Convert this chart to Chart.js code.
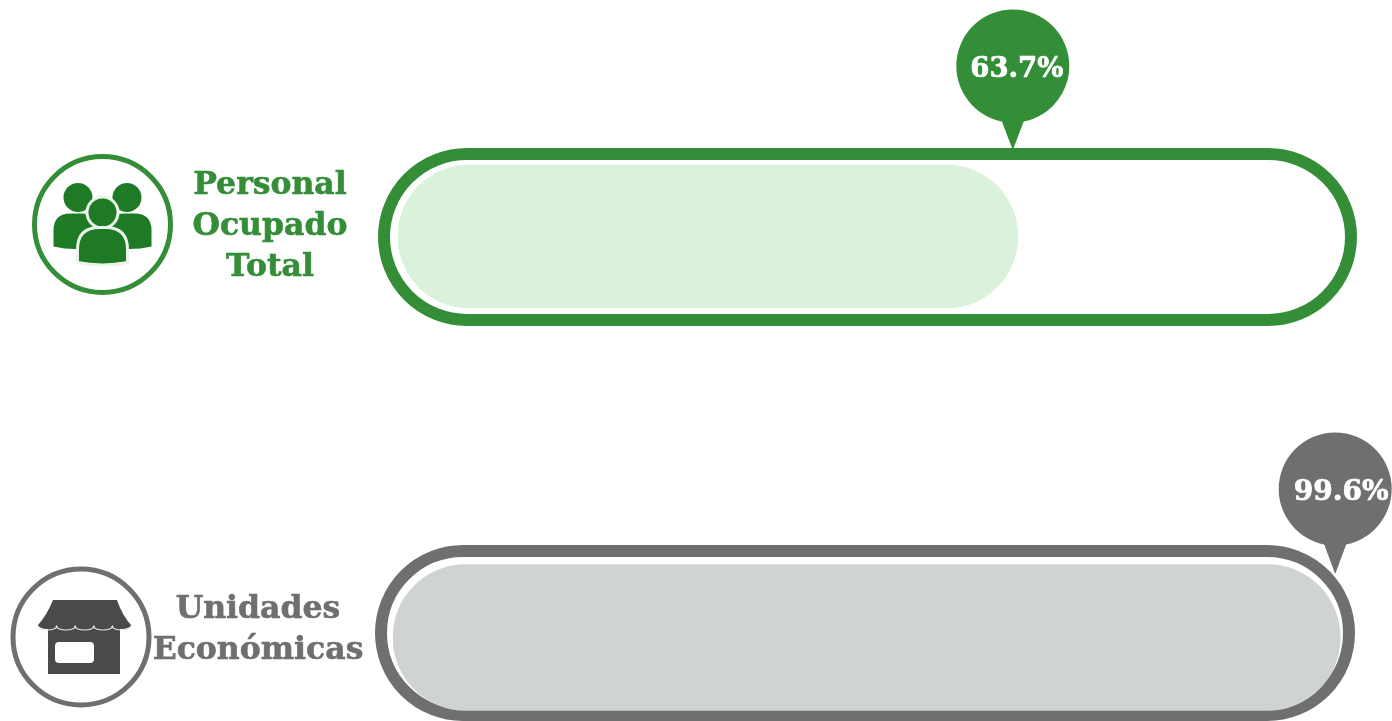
<!DOCTYPE html>
<html lang="es">
<head>
<meta charset="utf-8">
<title>Personal Ocupado Total y Unidades Económicas</title>
<script src="https://cdn.jsdelivr.net/npm/chart.js@4"></script>
<style>
html,body{margin:0;padding:0;background:#fff;overflow:hidden;width:1392px;height:721px}
canvas{position:absolute;left:0;display:block}
</style>
</head>
<body>
<canvas id="c1" width="1392" height="360" style="top:0;width:1392px;height:360px"></canvas>
<canvas id="c2" width="1392" height="361" style="top:360px;width:1392px;height:361px"></canvas>
<script>
const categories = ["Personal Ocupado Total", "Unidades Económicas"];
const categoryLines = [["Personal", "Ocupado", "Total"], ["Unidades", "Económicas"]];
const values = [63.7, 99.6];
const valueLabels = ["63.7%", "99.6%"];

const FONT = '"DejaVu Serif"';

function rr(ctx, x, y, w, h, r) {
  ctx.beginPath();
  ctx.roundRect(x, y, w, h, r);
}

function boldText(ctx, t, x, y, w) {
  ctx.lineJoin = 'round';
  ctx.lineWidth = w;
  ctx.strokeStyle = ctx.fillStyle;
  ctx.strokeText(t, x, y);
  ctx.fillText(t, x, y);
}

function drawPeople(ctx, cx, cy) {
  const col = '#1f7a26';
  function body(x0, x1, top, bottom, rad) {
    ctx.beginPath();
    ctx.moveTo(x0, bottom - 2);
    ctx.lineTo(x0, top + rad);
    ctx.quadraticCurveTo(x0, top, x0 + rad, top);
    ctx.lineTo(x1 - rad, top);
    ctx.quadraticCurveTo(x1, top, x1, top + rad);
    ctx.lineTo(x1, bottom - 2);
    ctx.quadraticCurveTo((x0 + x1) / 2, bottom + 3, x0, bottom - 2);
    ctx.closePath();
  }
  ctx.fillStyle = col;
  ctx.beginPath(); ctx.arc(cx - 24.5, cy - 27, 14.5, 0, Math.PI * 2); ctx.fill();
  ctx.beginPath(); ctx.arc(cx + 24.5, cy - 27, 14.5, 0, Math.PI * 2); ctx.fill();
  body(cx - 49, cx - 5, cy - 11, cy + 24, 17); ctx.fill();
  body(cx + 5, cx + 49, cy - 11, cy + 24, 17); ctx.fill();
  ctx.strokeStyle = '#eaf5ea';
  ctx.lineWidth = 3;
  ctx.beginPath(); ctx.arc(cx, cy - 12, 15.5, 0, Math.PI * 2); ctx.fillStyle = col; ctx.fill(); ctx.stroke();
  body(cx - 25, cx + 25, cy + 3, cy + 40, 22); ctx.fill(); ctx.stroke();
}

function drawStore(ctx, cx, cy) {
  const col = '#4a4a4a';
  ctx.fillStyle = col;
  ctx.fillRect(cx - 33, cy - 10, 72, 47);
  ctx.beginPath();
  ctx.moveTo(cx - 28, cy - 37);
  ctx.lineTo(cx + 36, cy - 37);
  ctx.quadraticCurveTo(cx + 41, cy - 22, cx + 50, cy - 12);
  ctx.lineTo(cx - 43, cy - 12);
  ctx.quadraticCurveTo(cx - 34, cy - 22, cx - 28, cy - 37);
  ctx.closePath();
  ctx.fill();
  const n = 5, sw = 93 / n;
  for (let i = 0; i < n; i++) {
    ctx.fillStyle = col;
    ctx.beginPath();
    ctx.ellipse(cx - 43 + sw * (i + 0.5), cy - 12, sw / 2, 4, 0, 0, Math.PI);
    ctx.fill();
    ctx.strokeStyle = '#e8e8e8';
    ctx.lineWidth = 1.2;
    ctx.beginPath();
    ctx.ellipse(cx - 43 + sw * (i + 0.5), cy - 10.5, sw / 2, 3.5, 0, 0, Math.PI);
    ctx.stroke();
  }
  ctx.fillStyle = '#ffffff';
  rr(ctx, cx - 26, cy + 5, 39, 21, 4);
  ctx.fill();
}

const decor = {
  id: 'decor',
  beforeDatasetsDraw(chart, args, o) {
    const ctx = chart.ctx;
    ctx.save();
    ctx.strokeStyle = o.color;
    ctx.lineWidth = 12;
    rr(ctx, o.track[0], o.track[1], o.track[2], o.track[3], o.track[4]);
    ctx.stroke();
    ctx.restore();
  },
  afterDatasetsDraw(chart, args, o) {
    const ctx = chart.ctx;
    const i = o.index;
    const tipX = chart.scales.x.getPixelForValue(values[i]) - 5;
    ctx.save();
    ctx.fillStyle = o.color;
    ctx.beginPath(); ctx.arc(tipX, o.pinY, 56.5, 0, Math.PI * 2); ctx.fill();
    ctx.beginPath();
    ctx.moveTo(tipX - 13, o.pinY + 50);
    ctx.lineTo(tipX, o.tipY);
    ctx.lineTo(tipX + 13, o.pinY + 50);
    ctx.closePath();
    ctx.fill();
    ctx.fillStyle = '#ffffff';
    ctx.font = 'bold ' + o.pinFont + 'px ' + FONT;
    ctx.textAlign = 'center';
    ctx.textBaseline = 'alphabetic';
    boldText(ctx, valueLabels[i], tipX + 4 + o.pinDx, o.pinY + 11, 0.7);
    ctx.fillStyle = o.color;
    ctx.font = 'bold ' + o.fontSize + 'px ' + FONT;
    categoryLines[i].forEach((t, k) => boldText(ctx, t, o.labelX, o.labelY + k * 41, 0.6));
    ctx.strokeStyle = o.color;
    ctx.lineWidth = 5;
    ctx.beginPath(); ctx.arc(o.iconX, o.iconY, 68, 0, Math.PI * 2); ctx.stroke();
    if (i === 0) drawPeople(ctx, o.iconX, o.iconY); else drawStore(ctx, o.iconX, o.iconY);
    ctx.restore();
  }
};

function makeChart(id, i, fill, thick, pad, decorOpts) {
  return new Chart(document.getElementById(id), {
    type: 'bar',
    data: {
      labels: [categories[i]],
      datasets: [{
        data: [values[i]],
        backgroundColor: fill,
        borderWidth: 0,
        borderSkipped: false,
        borderRadius: thick / 2,
        barThickness: thick
      }]
    },
    options: {
      indexAxis: 'y',
      responsive: false,
      animation: false,
      layout: { padding: pad },
      scales: {
        x: { display: false, min: 0, max: 100 },
        y: { display: false }
      },
      plugins: {
        legend: { display: false },
        tooltip: { enabled: false },
        decor: decorOpts
      }
    },
    plugins: [decor]
  });
}

makeChart('c1', 0, '#daf1dc', 143,
  { left: 398, right: 21, top: 113, bottom: 0 },
  { index: 0, color: '#348e38', track: [384, 154, 967, 166, 83], pinY: 66, tipY: 150, pinFont: 27.5, pinDx: 0,
    labelX: 270, labelY: 194, fontSize: 31.5, iconX: 102.5, iconY: 224.5 });

makeChart('c2', 1, '#cfd3d4', 146,
  { left: 393, right: 48, top: 194, bottom: 0 },
  { index: 1, color: '#6f6f6f', track: [381, 191, 968, 164, 82], pinY: 129, tipY: 214, pinFont: 28, pinDx: 2,
    labelX: 258, labelY: 258, fontSize: 31.5, iconX: 81, iconY: 277 });
</script>
</body>
</html>
